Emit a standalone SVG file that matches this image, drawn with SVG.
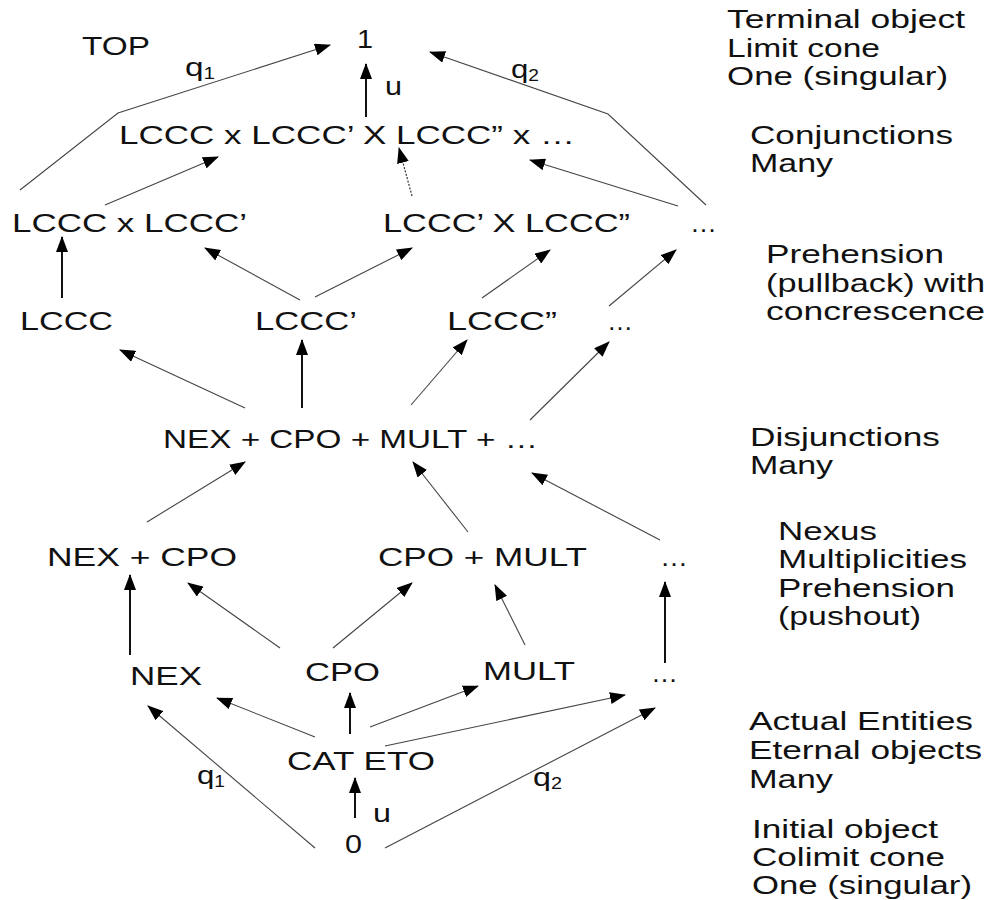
<svg xmlns="http://www.w3.org/2000/svg" width="996" height="900" viewBox="0 0 996 900">
<style>
text{font-family:"Liberation Sans",Arial,sans-serif;font-size:26px;fill:#111}
.sub{font-size:16px}
.thin{stroke:#444;stroke-width:1.1;fill:none}
.thick{stroke:#111;stroke-width:2;fill:none}
.dot{stroke:#333;stroke-width:1.2;fill:none;stroke-dasharray:2 1.5}
</style>
<defs>
<marker id="ah" markerUnits="userSpaceOnUse" markerWidth="16" markerHeight="12" viewBox="0 0 16 12" refX="15" refY="6" orient="auto">
<path d="M0,0 L16,6 L0,12 z" fill="#000"/>
</marker>
</defs>
<rect width="996" height="900" fill="#fff"/>

<g id="connectors">
<polyline class="thin" points="20,190 118,113 330,45" marker-end="url(#ah)"/>
<line class="thick" x1="366" y1="117" x2="366" y2="64" marker-end="url(#ah)"/>
<polyline class="thin" points="706,205 608,114 430,52" marker-end="url(#ah)"/>
<line class="thin" x1="105" y1="205" x2="218" y2="157" marker-end="url(#ah)"/>
<line class="dot" x1="412" y1="196" x2="399" y2="148" marker-end="url(#ah)"/>
<line class="thin" x1="678" y1="206" x2="530" y2="160" marker-end="url(#ah)"/>

<line class="thick" x1="62" y1="298" x2="62" y2="237" marker-end="url(#ah)"/>
<line class="thin" x1="300" y1="300" x2="205" y2="248" marker-end="url(#ah)"/>
<line class="thin" x1="315" y1="297" x2="412" y2="248" marker-end="url(#ah)"/>
<line class="thin" x1="482" y1="298" x2="550" y2="250" marker-end="url(#ah)"/>
<line class="thin" x1="609" y1="306" x2="676" y2="250" marker-end="url(#ah)"/>

<line class="thin" x1="245" y1="408" x2="120" y2="350" marker-end="url(#ah)"/>
<line class="thick" x1="302" y1="408" x2="302" y2="340" marker-end="url(#ah)"/>
<line class="thin" x1="411" y1="405" x2="467" y2="340" marker-end="url(#ah)"/>
<line class="thin" x1="530" y1="420" x2="609" y2="342" marker-end="url(#ah)"/>

<line class="thin" x1="147" y1="522" x2="245" y2="462" marker-end="url(#ah)"/>
<line class="thin" x1="468" y1="532" x2="413" y2="462" marker-end="url(#ah)"/>
<line class="thin" x1="660" y1="540" x2="532" y2="473" marker-end="url(#ah)"/>

<line class="thick" x1="130" y1="655" x2="130" y2="575" marker-end="url(#ah)"/>
<line class="thin" x1="280" y1="648" x2="188" y2="583" marker-end="url(#ah)"/>
<line class="thin" x1="333" y1="648" x2="412" y2="583" marker-end="url(#ah)"/>
<line class="thin" x1="525" y1="645" x2="495" y2="585" marker-end="url(#ah)"/>
<line class="thick" x1="665" y1="663" x2="665" y2="582" marker-end="url(#ah)"/>

<line class="thin" x1="315" y1="737" x2="217" y2="698" marker-end="url(#ah)"/>
<line class="thick" x1="350" y1="734" x2="350" y2="693" marker-end="url(#ah)"/>
<line class="thin" x1="370" y1="727" x2="478" y2="686" marker-end="url(#ah)"/>
<line class="thin" x1="385" y1="746" x2="625" y2="695" marker-end="url(#ah)"/>
<line class="thick" x1="355" y1="818" x2="355" y2="778" marker-end="url(#ah)"/>
<line class="thin" x1="315" y1="848" x2="148" y2="706" marker-end="url(#ah)"/>
<line class="thin" x1="385" y1="848" x2="655" y2="708" marker-end="url(#ah)"/>

<text x="185" y="76" textLength="30" lengthAdjust="spacingAndGlyphs">q<tspan class="sub" dy="3">1</tspan></text>
<text x="385" y="95" textLength="17" lengthAdjust="spacingAndGlyphs">u</text>
<text x="511" y="78" textLength="28" lengthAdjust="spacingAndGlyphs">q<tspan class="sub" dy="3">2</tspan></text>
<text x="197" y="784" textLength="28" lengthAdjust="spacingAndGlyphs">q<tspan class="sub" dy="3">1</tspan></text>
<text x="373" y="822" textLength="18" lengthAdjust="spacingAndGlyphs">u</text>
<text x="533" y="786" textLength="29" lengthAdjust="spacingAndGlyphs">q<tspan class="sub" dy="3">2</tspan></text>
</g>

<g id="n-top"><text x="82" y="55" textLength="68" lengthAdjust="spacingAndGlyphs">TOP</text></g>
<g id="n-one"><text x="357" y="48" textLength="16" lengthAdjust="spacingAndGlyphs">1</text></g>
<g id="n-conj"><text x="119" y="144" textLength="456" lengthAdjust="spacingAndGlyphs">LCCC x LCCC’ X LCCC” x …</text></g>
<g id="n-p1"><text x="12" y="232" textLength="235" lengthAdjust="spacingAndGlyphs">LCCC x LCCC’</text></g>
<g id="n-p2"><text x="383" y="232" textLength="247" lengthAdjust="spacingAndGlyphs">LCCC’ X LCCC”</text></g>
<g id="n-p3"><text x="690" y="232" textLength="27" lengthAdjust="spacingAndGlyphs">…</text></g>
<g id="n-l1"><text x="20" y="330" textLength="93" lengthAdjust="spacingAndGlyphs">LCCC</text></g>
<g id="n-l2"><text x="255" y="330" textLength="102" lengthAdjust="spacingAndGlyphs">LCCC’</text></g>
<g id="n-l3"><text x="447" y="330" textLength="110" lengthAdjust="spacingAndGlyphs">LCCC”</text></g>
<g id="n-l4"><text x="607" y="330" textLength="26" lengthAdjust="spacingAndGlyphs">…</text></g>
<g id="n-disj"><text x="163" y="448" textLength="375" lengthAdjust="spacingAndGlyphs">NEX + CPO + MULT + …</text></g>
<g id="n-s1"><text x="47" y="566" textLength="190" lengthAdjust="spacingAndGlyphs">NEX + CPO</text></g>
<g id="n-s2"><text x="378" y="566" textLength="209" lengthAdjust="spacingAndGlyphs">CPO + MULT</text></g>
<g id="n-s3"><text x="660" y="566" textLength="28" lengthAdjust="spacingAndGlyphs">…</text></g>
<g id="n-nex"><text x="130" y="685" textLength="72" lengthAdjust="spacingAndGlyphs">NEX</text></g>
<g id="n-cpo"><text x="305" y="681" textLength="75" lengthAdjust="spacingAndGlyphs">CPO</text></g>
<g id="n-mult"><text x="483" y="680" textLength="92" lengthAdjust="spacingAndGlyphs">MULT</text></g>
<g id="n-e4"><text x="651" y="682" textLength="27" lengthAdjust="spacingAndGlyphs">…</text></g>
<g id="n-cateto"><text x="287" y="770" textLength="148" lengthAdjust="spacingAndGlyphs">CAT ETO</text></g>
<g id="n-zero"><text x="345" y="853" textLength="17" lengthAdjust="spacingAndGlyphs">0</text></g>

<g id="annotations">
<text x="727" y="28" textLength="238" lengthAdjust="spacingAndGlyphs">Terminal object</text>
<text x="727" y="57" textLength="153" lengthAdjust="spacingAndGlyphs">Limit cone</text>
<text x="727" y="85" textLength="221" lengthAdjust="spacingAndGlyphs">One (singular)</text>
<text x="750" y="144" textLength="203" lengthAdjust="spacingAndGlyphs">Conjunctions</text>
<text x="750" y="172" textLength="83" lengthAdjust="spacingAndGlyphs">Many</text>
<text x="766" y="263" textLength="178" lengthAdjust="spacingAndGlyphs">Prehension</text>
<text x="766" y="292" textLength="219" lengthAdjust="spacingAndGlyphs">(pullback) with</text>
<text x="766" y="320" textLength="219" lengthAdjust="spacingAndGlyphs">concrescence</text>
<text x="750" y="446" textLength="190" lengthAdjust="spacingAndGlyphs">Disjunctions</text>
<text x="750" y="474" textLength="83" lengthAdjust="spacingAndGlyphs">Many</text>
<text x="778" y="540" textLength="99" lengthAdjust="spacingAndGlyphs">Nexus</text>
<text x="778" y="568" textLength="189" lengthAdjust="spacingAndGlyphs">Multiplicities</text>
<text x="778" y="597" textLength="177" lengthAdjust="spacingAndGlyphs">Prehension</text>
<text x="778" y="625" textLength="143" lengthAdjust="spacingAndGlyphs">(pushout)</text>
<text x="749" y="730" textLength="224" lengthAdjust="spacingAndGlyphs">Actual Entities</text>
<text x="749" y="759" textLength="233" lengthAdjust="spacingAndGlyphs">Eternal objects</text>
<text x="749" y="788" textLength="84" lengthAdjust="spacingAndGlyphs">Many</text>
<text x="752" y="838" textLength="186" lengthAdjust="spacingAndGlyphs">Initial object</text>
<text x="752" y="866" textLength="193" lengthAdjust="spacingAndGlyphs">Colimit cone</text>
<text x="752" y="894" textLength="220" lengthAdjust="spacingAndGlyphs">One (singular)</text>
</g>
</svg>
